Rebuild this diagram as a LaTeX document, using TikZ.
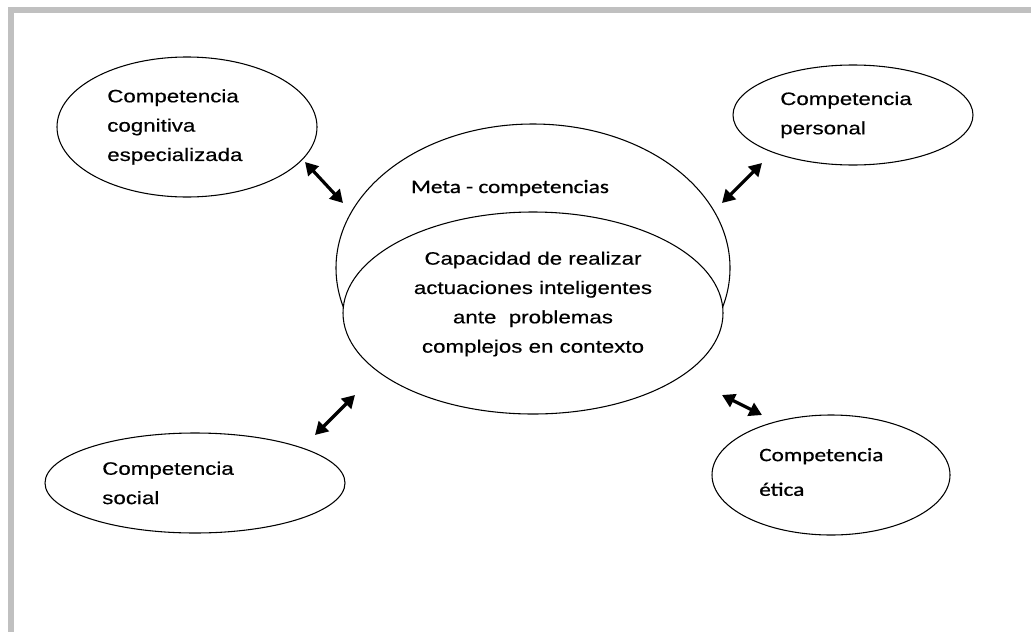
\documentclass[tikz,border=0pt]{standalone}
\usepackage{fontspec}
\usetikzlibrary{shapes.geometric,arrows.meta}
\newfontfamily\arialw[FakeStretch=1.24,FakeBold=0.4]{Liberation Sans}
\newfontfamily\calw[FakeStretch=1.22,FakeBold=0.8]{Carlito}
\definecolor{framegray}{RGB}{192,192,192}
\begin{document}
\begin{tikzpicture}[x=0.75pt,y=-0.75pt,
  oval/.style={ellipse,draw=black,line width=0.8pt,fill=white,inner sep=0pt},
  txtA/.style={inner sep=0pt,align=left,anchor=west,font=\arialw\fontsize{13.5pt}{22pt}\selectfont},
  txtC/.style={inner sep=0pt,align=left,anchor=west,font=\calw\fontsize{14.25pt}{26pt}\selectfont},
  dbl/.style={line width=2.4pt,{Triangle[length=9.5pt,width=10.5pt]}-{Triangle[length=9.5pt,width=10.5pt]}}]
\useasboundingbox (0,0) rectangle (1031,632);
% frame
\fill[framegray] (8,7) rectangle (1031,13);
\fill[framegray] (8,7) rectangle (14,632);
% ellipses
\node[oval,minimum width=195pt,minimum height=105pt] (cog) at (187,127) {};
\node[oval,minimum width=180pt,minimum height=75pt] (pers) at (853,115) {};
\node[oval,minimum width=225pt,minimum height=75pt] (soc) at (195,483) {};
\node[oval,minimum width=178.5pt,minimum height=90pt] (etic) at (831,475) {};
\node[oval,minimum width=295.5pt,minimum height=216pt] (meta) at (533,268) {};
\node[oval,minimum width=285pt,minimum height=151.5pt] (cap) at (533,313) {};
% texts
\node[txtA] (cogtext) at (107,127) {Competencia\\cognitiva\\especializada};
\node[txtA] (perstext) at (780,115) {Competencia\\personal};
\node[txtA] (soctext) at (102,483) {Competencia\\social};
\node[txtC] (etictext) at (759,472) {Competencia\\ética};
\node[inner sep=0pt,font=\calw\fontsize{14.25pt}{18pt}\selectfont] (metatext) at (510,188) {Meta - competencias};
\node[inner sep=0pt,align=center,font=\arialw\fontsize{13.5pt}{22pt}\selectfont] (captext) at (533,304)
  {Capacidad de realizar\\actuaciones inteligentes\\ante~~problemas\\complejos en contexto};
% arrows
\coordinate (a1s) at (305,162); \coordinate (a1e) at (343,203);
\coordinate (a2s) at (762,163); \coordinate (a2e) at (722,203);
\coordinate (a3s) at (355,395); \coordinate (a3e) at (315,435);
\coordinate (a4s) at (722,395); \coordinate (a4e) at (762,415);
\draw[dbl] (a1s) -- (a1e);
\draw[dbl] (a2s) -- (a2e);
\draw[dbl] (a3s) -- (a3e);
\draw[dbl] (a4s) -- (a4e);
\end{tikzpicture}
\end{document}
